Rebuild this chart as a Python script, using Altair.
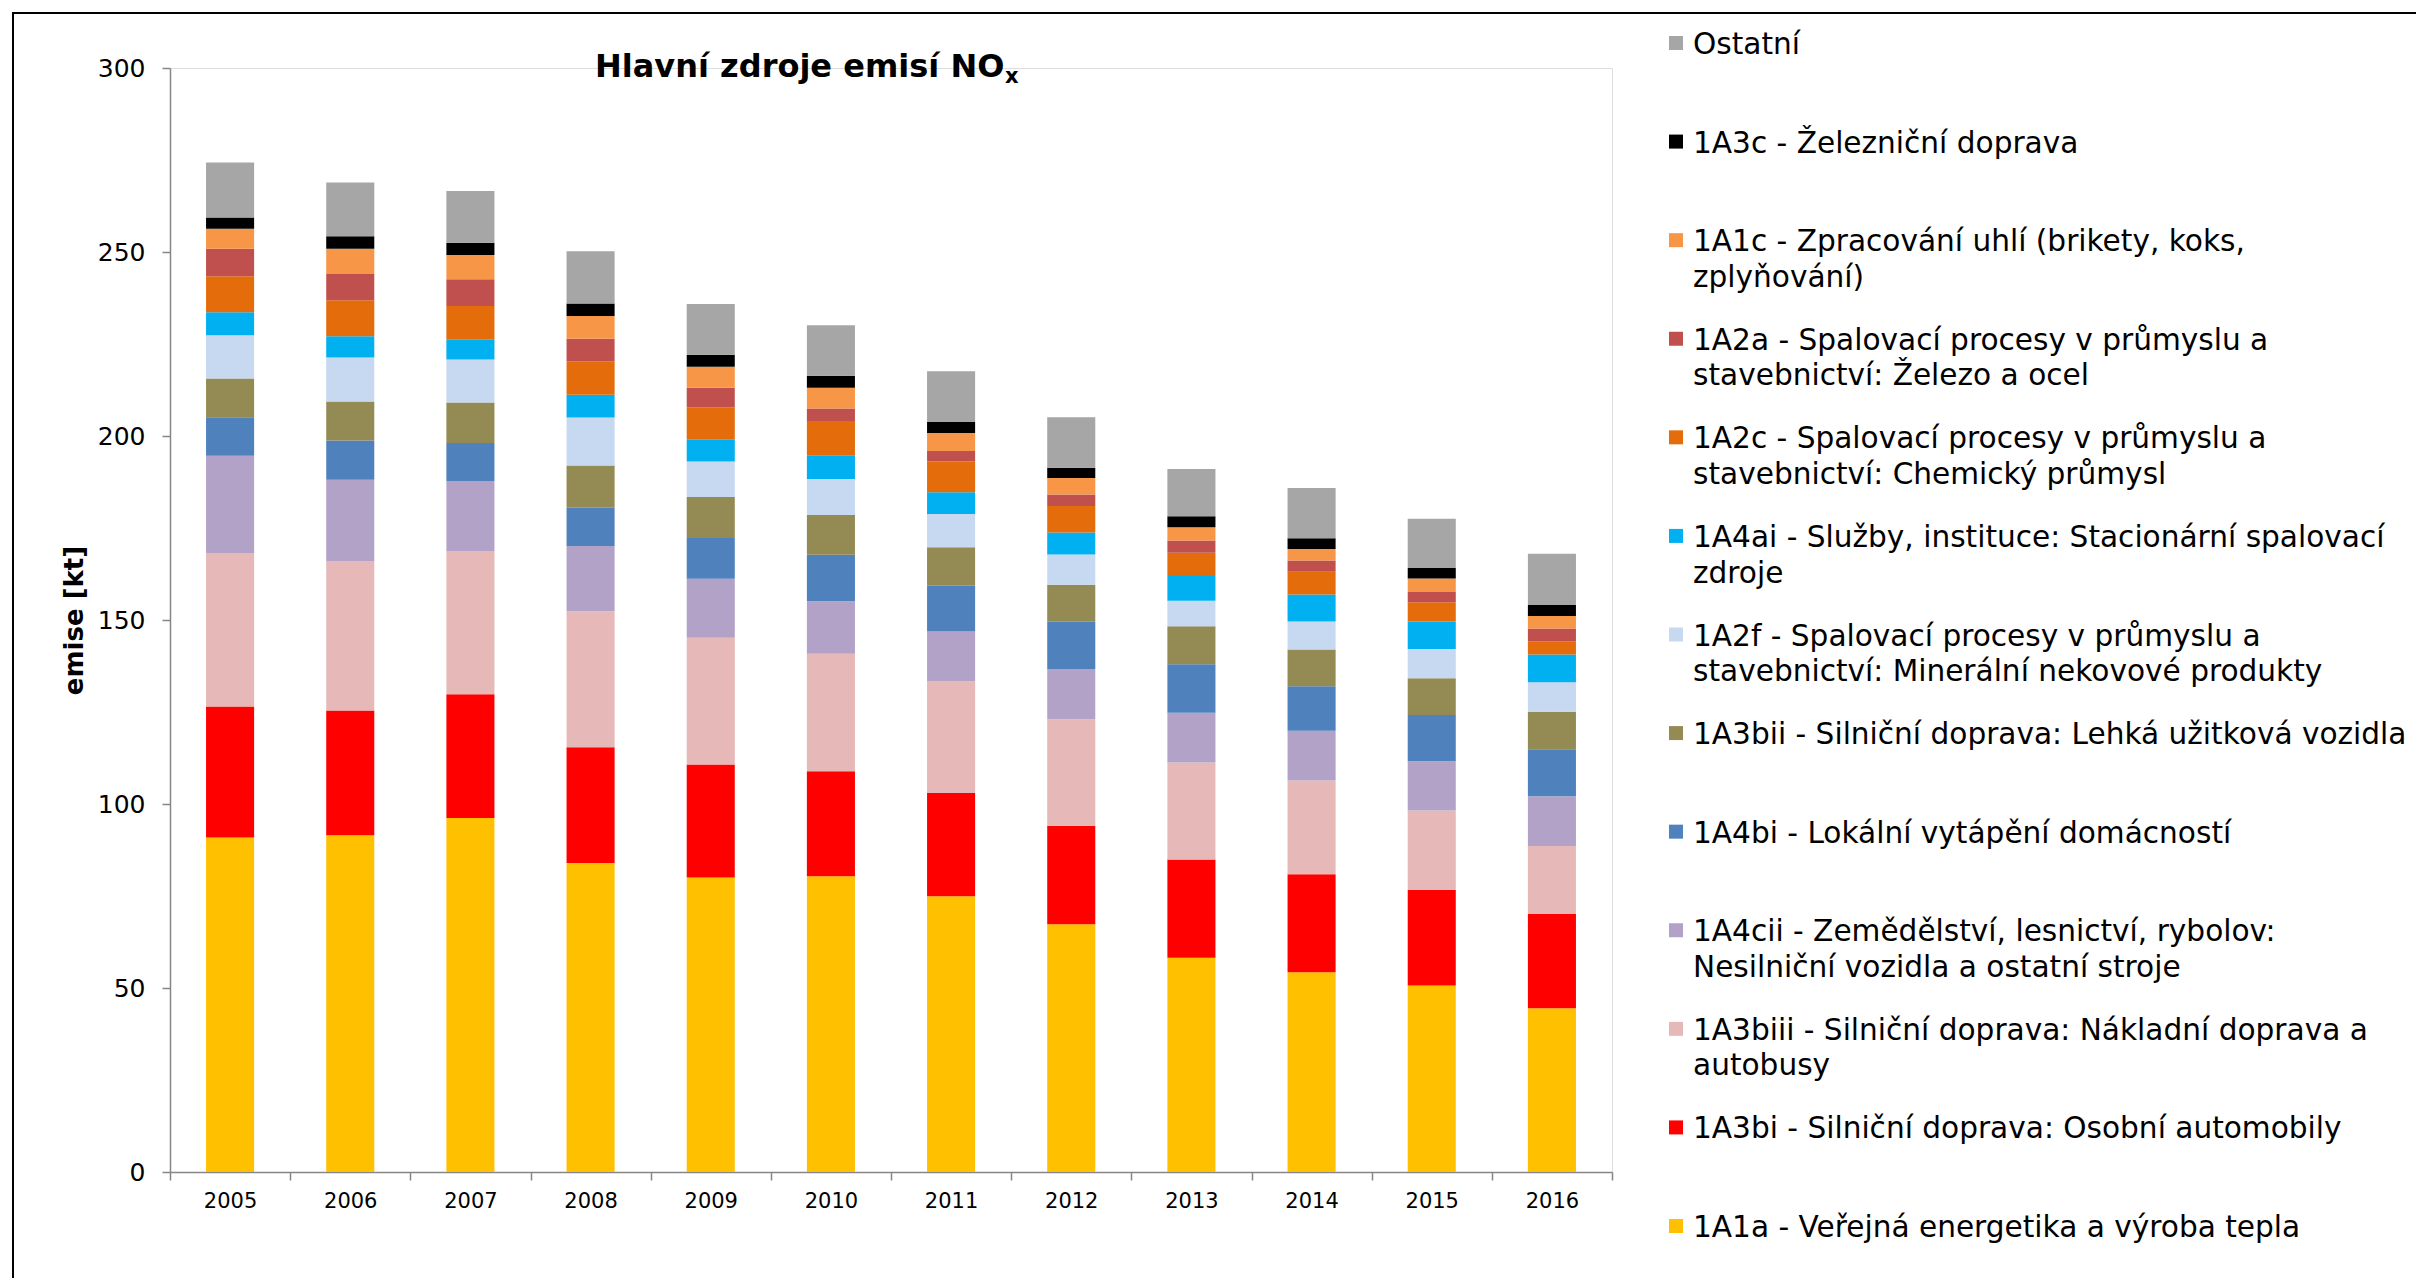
import altair as alt
import pandas as pd

years = [str(y) for y in range(2005, 2017)]

# stacking order, bottom to top
codes = ["1A1a", "1A3bi", "1A3biii", "1A4cii", "1A4bi", "1A3bii", "1A2f",
         "1A4ai", "1A2c", "1A2a", "1A1c", "1A3c", "Ostatni"]

colors = ["#FFC000", "#FF0000", "#E6B9B8", "#B3A2C7", "#4F81BD", "#948A54",
          "#C6D9F1", "#00B0F0", "#E46C0A", "#C0504D", "#F79646", "#000000",
          "#A6A6A6"]

labels = [
    "1A1a - Veřejná energetika a výroba tepla",
    "1A3bi - Silniční doprava: Osobní automobily",
    "1A3biii - Silniční doprava: Nákladní doprava a\nautobusy",
    "1A4cii - Zemědělství, lesnictví, rybolov:\nNesilniční vozidla a ostatní stroje",
    "1A4bi - Lokální vytápění domácností",
    "1A3bii - Silniční doprava: Lehká užitková vozidla",
    "1A2f - Spalovací procesy v průmyslu a\nstavebnictví: Minerální nekovové produkty",
    "1A4ai - Služby, instituce: Stacionární spalovací\nzdroje",
    "1A2c - Spalovací procesy v průmyslu a\nstavebnictví: Chemický průmysl",
    "1A2a - Spalovací procesy v průmyslu a\nstavebnictví: Železo a ocel",
    "1A1c - Zpracování uhlí (brikety, koks,\nzplyňování)",
    "1A3c - Železniční doprava",
    "Ostatní",
]

v_1A1a = [90.9, 91.5, 96.2, 84.0, 80.0, 80.4, 74.9, 67.3, 58.2, 54.3, 50.7, 44.5]
v_1A3bi = [35.6, 33.9, 33.6, 31.4, 30.7, 28.5, 28.1, 26.8, 26.7, 26.6, 25.9, 25.6]
v_1A3biii = [41.7, 40.5, 38.8, 37.0, 34.5, 31.9, 30.3, 28.9, 26.4, 25.5, 21.6, 18.5]
v_1A4cii = [26.4, 22.2, 19.2, 17.7, 16.0, 14.3, 13.6, 13.7, 13.5, 13.5, 13.4, 13.5]
v_1A4bi = [10.5, 10.7, 10.3, 10.4, 11.1, 12.6, 12.4, 12.8, 13.2, 12.1, 12.6, 12.8]
v_1A3bii = [10.5, 10.6, 11.0, 11.5, 11.1, 10.8, 10.5, 10.1, 10.3, 10.0, 10.0, 10.2]
v_1A2f = [11.8, 11.9, 11.7, 13.0, 9.7, 9.8, 9.0, 8.2, 6.9, 7.6, 7.9, 8.0]
v_1A4ai = [6.2, 5.8, 5.5, 6.2, 5.9, 6.5, 5.9, 6.0, 7.0, 7.3, 7.5, 7.5]
v_1A2c = [9.8, 9.8, 9.0, 9.1, 8.8, 9.3, 8.4, 7.2, 6.1, 6.2, 5.2, 3.6]
v_1A2a = [7.5, 7.1, 7.3, 6.1, 5.3, 3.4, 2.8, 3.1, 3.3, 3.1, 2.8, 3.5]
v_1A1c = [5.4, 6.9, 6.6, 6.2, 5.7, 5.6, 4.9, 4.5, 3.6, 3.1, 3.7, 3.4]
v_1A3c = [3.1, 3.4, 3.3, 3.4, 3.3, 3.3, 3.0, 2.8, 3.0, 2.9, 2.8, 3.0]
v_ostatni = [14.9, 14.6, 14.1, 14.2, 13.8, 13.7, 13.8, 13.7, 12.8, 13.7, 13.4, 13.9]

series_values = [v_1A1a, v_1A3bi, v_1A3biii, v_1A4cii, v_1A4bi, v_1A3bii, v_1A2f,
                 v_1A4ai, v_1A2c, v_1A2a, v_1A1c, v_1A3c, v_ostatni]

y_ticks = [0, 50, 100, 150, 200, 250, 300]

title_main = "Hlavní zdroje emisí NO"
title_sub = "x"

FONT = "DejaVu Sans"

rows = []
for i, (code, vals) in enumerate(zip(codes, series_values)):
    for yr, v in zip(years, vals):
        rows.append({"year": yr, "code": code, "value": v, "ord": i})
df = pd.DataFrame(rows)

legend_codes = codes[::-1]
legend_labels = labels[::-1]
leg_df = pd.DataFrame({"code": legend_codes, "label": legend_labels})

W, H = 1442, 1104

color = alt.Color("code:N", scale=alt.Scale(domain=codes, range=colors), legend=None)

bars = alt.Chart(df).mark_bar(width=alt.RelativeBandSize(0.4)).encode(
    x=alt.X("year:O", title=None,
            scale=alt.Scale(paddingInner=0, paddingOuter=0),
            axis=alt.Axis(labelAngle=0, tickBand="extent", labelFontSize=21,
                          labelFont=FONT, labelColor="black", labelPadding=10,
                          domainColor="#868686", domainWidth=1.5,
                          tickColor="#868686", tickWidth=1.5, tickSize=8)),
    y=alt.Y("value:Q", stack="zero", title="emise [kt]",
            scale=alt.Scale(domain=[0, 300], nice=False),
            axis=alt.Axis(values=y_ticks, grid=False, labelFontSize=25,
                          labelFont=FONT, labelColor="black", labelPadding=17,
                          domainColor="#868686", domainWidth=1.5,
                          tickColor="#868686", tickWidth=1.5, tickSize=8,
                          titleFont=FONT, titleFontSize=26, titleFontWeight="bold",
                          titleColor="black", titlePadding=10)),
    color=color,
    order=alt.Order("ord:Q", sort="ascending"),
)

leg_y = alt.Y("code:N", axis=None,
              scale=alt.Scale(type="point", domain=legend_codes, range=[-25, 1158], padding=0))

leg_sq = alt.Chart(leg_df).mark_square(size=196, opacity=1).encode(
    x=alt.value(1506), y=leg_y, color=color)

leg_txt = alt.Chart(leg_df).mark_text(
    align="left", baseline="alphabetic", dy=11, lineBreak="\n", lineHeight=35.6,
    fontSize=29.6, font=FONT, color="black").encode(
    x=alt.value(1523), y=leg_y, text="label:N")

one = alt.Data(values=[{"main": title_main, "sub": title_sub}])
title_a = alt.Chart(one).mark_text(
    align="left", baseline="alphabetic", fontSize=32, font=FONT,
    fontWeight="bold", color="black").encode(
    x=alt.value(425), y=alt.value(9), text="main:N")
title_b = alt.Chart(one).mark_text(
    align="left", baseline="alphabetic", fontSize=21, font=FONT,
    fontWeight="bold", color="black").encode(
    x=alt.value(835), y=alt.value(15), text="sub:N")

frame_top = alt.Chart(one).mark_rule(color="black", strokeWidth=2).encode(
    x=alt.value(-158), x2=alt.value(2300), y=alt.value(-55))
frame_left = alt.Chart(one).mark_rule(color="black", strokeWidth=2).encode(
    x=alt.value(-157), y=alt.value(-56), y2=alt.value(1300))

chart = alt.layer(bars, leg_sq, leg_txt, title_a, title_b, frame_top, frame_left).resolve_scale(
    y="independent"
).properties(
    width=W, height=H,
    autosize=alt.AutoSizeParams(type="none"),
    padding={"left": 162, "top": 60, "right": 804, "bottom": 106},
).configure_view(stroke=None).configure(background="white")

chart.save("out.html", embed_options={"renderer": "svg", "actions": False})
